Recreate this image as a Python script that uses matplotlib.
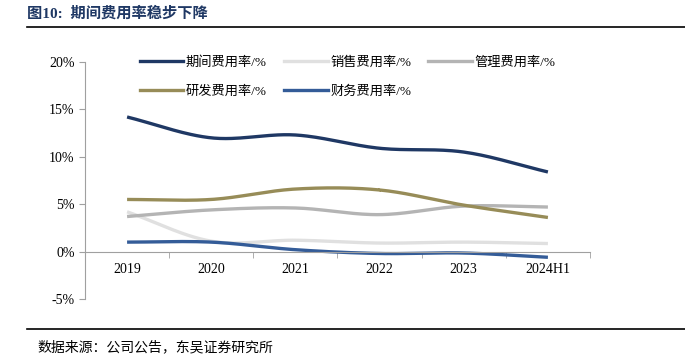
import numpy as np
import matplotlib
matplotlib.use("Agg")
import matplotlib.pyplot as plt
from matplotlib.lines import Line2D

plt.rcParams['font.family'] = ['Liberation Serif', 'Noto Sans CJK SC']

# data (%)
years = ['2019', '2020', '2021', '2022', '2023', '2024H1']
period_rate = [14.2, 12.0, 12.3, 10.9, 10.5, 8.4]
sales_rate = [4.2, 1.1, 1.2, 0.9, 1.0, 0.85]
admin_rate = [3.7, 4.4, 4.6, 3.9, 4.8, 4.7]
rd_rate = [5.5, 5.5, 6.6, 6.5, 4.9, 3.6]
finance_rate = [1.0, 1.0, 0.2, -0.2, -0.15, -0.6]

series = [
    ('期间费用率/%', period_rate, '#1F3864'),
    ('销售费用率/%', sales_rate, '#E0E0E0'),
    ('管理费用率/%', admin_rate, '#B4B4B4'),
    ('研发费用率/%', rd_rate, '#978C58'),
    ('财务费用率/%', finance_rate, '#345C98'),
]


def smooth(x, y, n=30):
    # Catmull-Rom curve through the points, like Excel's smoothed lines
    x = np.asarray(x, float)
    y = np.asarray(y, float)
    px = np.concatenate([[2 * x[0] - x[1]], x, [2 * x[-1] - x[-2]]])
    py = np.concatenate([[2 * y[0] - y[1]], y, [2 * y[-1] - y[-2]]])
    xs, ys = [], []
    t = np.linspace(0, 1, n)
    for i in range(1, len(px) - 2):
        for p, out in ((px, xs), (py, ys)):
            p0, p1, p2, p3 = p[i - 1], p[i], p[i + 1], p[i + 2]
            out.extend(0.5 * ((2 * p1) + (-p0 + p2) * t
                              + (2 * p0 - 5 * p1 + 4 * p2 - p3) * t ** 2
                              + (-p0 + 3 * p1 - 3 * p2 + p3) * t ** 3))
    return np.array(xs), np.array(ys)


fig = plt.figure(figsize=(6.85, 3.6), dpi=100)
ax = fig.add_axes([85 / 685, 1 - 299 / 360, 505 / 685, 237 / 360])

x = np.arange(len(years))
handles = []
for label, vals, color in series:
    sx, sy = smooth(x, vals)
    ax.plot(sx, sy, color=color, lw=2.4, solid_capstyle='butt')
    handles.append(Line2D([], [], color=color, lw=2.4, label=label))

ax.set_xlim(-0.5, 5.5)
ax.set_ylim(-5, 20)
ax.set_yticks([-5, 0, 5, 10, 15, 20])
ax.set_yticklabels([f'{v}%' for v in [-5, 0, 5, 10, 15, 20]])
ax.set_xticks(x)
ax.set_xticklabels(years)
ax.set_xticks(np.arange(0.5, 6, 1), minor=True)
ax.tick_params(axis='x', which='major', length=0, pad=8, labelsize=10)
ax.tick_params(axis='x', which='minor', length=4, color='#A0A0A0', direction='out')
ax.tick_params(axis='y', length=4, color='#A0A0A0', direction='out', labelsize=10)

for s in ['top', 'right']:
    ax.spines[s].set_visible(False)
ax.spines['bottom'].set_position(('data', 0))
ax.spines['bottom'].set_color('#A0A0A0')
ax.spines['left'].set_color('#A0A0A0')

# legend fills column by column; reorder so rows read like the reference
order = [0, 3, 1, 4, 2]
ax.legend(handles=[handles[i] for i in order], ncol=3, loc='upper left',
          bbox_to_anchor=(0.085, 1.075), frameon=False, fontsize=9.5,
          handlelength=3.3, handletextpad=0.2, columnspacing=1.3,
          labelspacing=1.25)

fig.text(27 / 685, 1 - 13 / 360, '图10:  期间费用率稳步下降', fontsize=11,
         fontweight='bold', color='#1F3864', va='center')
fig.add_artist(Line2D([27 / 685, 1.0], [1 - 27 / 360] * 2, color='black', lw=1.2))
fig.add_artist(Line2D([27 / 685, 1.0], [1 - 329 / 360] * 2, color='black', lw=1.2))
fig.text(37 / 685, 1 - 347 / 360, '数据来源：公司公告，东吴证券研究所', fontsize=10,
         va='center')

fig.savefig('out.png', dpi=100)
